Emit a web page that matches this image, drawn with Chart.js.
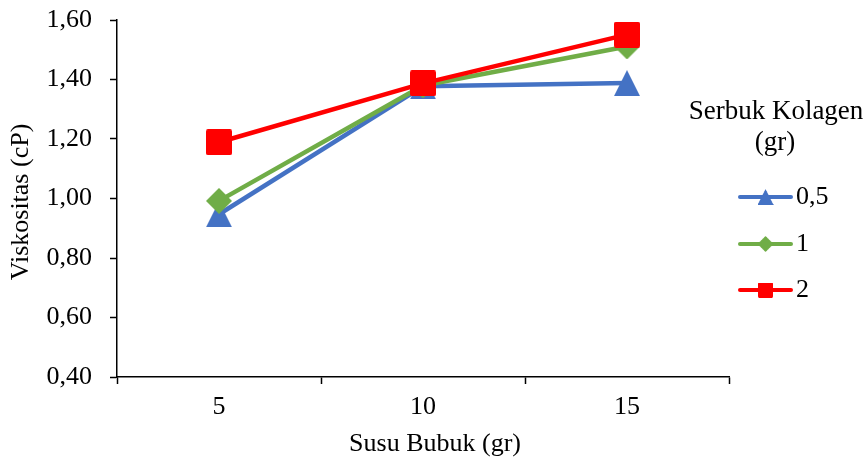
<!DOCTYPE html>
<html>
<head>
<meta charset="utf-8">
<script src="https://cdn.jsdelivr.net/npm/chart.js@4/dist/chart.umd.min.js"></script>
<style>
  html, body { margin: 0; padding: 0; background: #ffffff; }
  #wrap { width: 866px; height: 461px; }
</style>
</head>
<body>
<div id="wrap"><canvas id="chart" width="866" height="461"></canvas></div>
<script>
// Susu bubuk (gr) on the x axis
const categories = ['5', '10', '15'];

// Viscosity (cP) for each collagen dose
const serbuk05 = [0.947, 1.377, 1.388];
const serbuk1  = [0.992, 1.38, 1.511];
const serbuk2  = [1.189, 1.387, 1.551];

const seriesLabels = ['0,5', '1', '2'];
const legendTitle = ['Serbuk Kolagen', '(gr)'];
const yTitle = 'Viskositas (cP)';
const xTitle = 'Susu Bubuk (gr)';

const FONT = "'Liberation Serif', 'Times New Roman', serif";
const BLUE = '#4472C4', GREEN = '#70AD47', RED = '#FF0000';

// Marker sprites, centred on their bounding box
function marker(shape, color, size) {
  const c = document.createElement('canvas');
  c.width = size; c.height = size;
  const g = c.getContext('2d');
  g.fillStyle = color;
  g.beginPath();
  if (shape === 'triangle') {
    g.moveTo(size / 2, 0); g.lineTo(size, size); g.lineTo(0, size);
  } else if (shape === 'diamond') {
    g.moveTo(size / 2, 0); g.lineTo(size, size / 2); g.lineTo(size / 2, size); g.lineTo(0, size / 2);
  } else {
    const r = 2;
    g.moveTo(r, 0); g.lineTo(size - r, 0); g.quadraticCurveTo(size, 0, size, r);
    g.lineTo(size, size - r); g.quadraticCurveTo(size, size, size - r, size);
    g.lineTo(r, size); g.quadraticCurveTo(0, size, 0, size - r);
    g.lineTo(0, r); g.quadraticCurveTo(0, 0, r, 0);
  }
  g.closePath();
  g.fill();
  return c;
}

const triBlue = marker('triangle', BLUE, 26);
const diaGreen = marker('diamond', GREEN, 26);
const sqRed = marker('square', RED, 26);

function dataset(label, data, color, sprite, order) {
  return {
    label, data,
    borderColor: color,
    backgroundColor: color,
    borderWidth: 4.5,
    borderJoinStyle: 'round',
    borderCapStyle: 'round',
    pointStyle: sprite,
    pointRadius: 13,
    pointHoverRadius: 13,
    tension: 0,
    clip: false,
    order
  };
}

// Axis titles and the series key on the right
const labelsPlugin = {
  id: 'sideLabels',
  afterDraw(chart) {
    const ctx = chart.ctx;
    ctx.save();
    ctx.fillStyle = '#000';
    ctx.textBaseline = 'middle';
    ctx.textAlign = 'center';

    ctx.font = '26px ' + FONT;
    ctx.fillText(xTitle, 435, 444);

    ctx.save();
    ctx.translate(21, 202);
    ctx.rotate(-Math.PI / 2);
    ctx.fillText(yTitle, 0, 0);
    ctx.restore();

    ctx.font = '27px ' + FONT;
    ctx.fillText(legendTitle[0], 776, 112);
    ctx.fillText(legendTitle[1], 775, 143);

    const rows = [197, 244, 290];
    const sprites = [triBlue, diaGreen, sqRed];
    const sizes = [16, 16, 15];
    chart.data.datasets.forEach((ds, i) => {
      const y = rows[i];
      ctx.strokeStyle = ds.borderColor;
      ctx.lineWidth = 4;
      ctx.lineCap = 'round';
      ctx.beginPath();
      ctx.moveTo(740, y);
      ctx.lineTo(791, y);
      ctx.stroke();
      const s = sizes[i];
      ctx.drawImage(sprites[i], 765.5 - s / 2, y - s / 2, s, s);
      ctx.fillStyle = '#000';
      ctx.font = '26px ' + FONT;
      ctx.textAlign = 'left';
      ctx.fillText(ds.label, 796, y);
    });
    ctx.restore();
  }
};

new Chart(document.getElementById('chart'), {
  type: 'line',
  data: {
    labels: categories,
    datasets: [
      dataset(seriesLabels[0], serbuk05, BLUE, triBlue, 2),
      dataset(seriesLabels[1], serbuk1, GREEN, diaGreen, 1),
      dataset(seriesLabels[2], serbuk2, RED, sqRed, 0)
    ]
  },
  options: {
    responsive: false,
    animation: false,
    events: [],
    layout: { padding: { top: 20, right: 137, bottom: 0, left: 0 } },
    plugins: {
      legend: { display: false },
      tooltip: { enabled: false },
      title: { display: false }
    },
    scales: {
      x: {
        type: 'category',
        offset: true,
        grid: {
          offset: true,
          display: true,
          drawOnChartArea: false,
          drawTicks: true,
          tickLength: 7,
          tickColor: '#000',
          tickWidth: 1.5
        },
        border: { display: true, color: '#000', width: 1.5 },
        ticks: {
          color: '#000',
          font: { family: FONT, size: 26 },
          padding: 8,
          maxRotation: 0
        },
        afterFit(scale) { scale.height = 84; }
      },
      y: {
        min: 0.4,
        max: 1.6,
        ticks: {
          stepSize: 0.2,
          color: '#000',
          font: { family: FONT, size: 26 },
          padding: 18,
          callback: (v) => Number(v).toFixed(2).replace('.', ',')
        },
        grid: {
          display: true,
          drawOnChartArea: false,
          drawTicks: true,
          tickLength: 7,
          tickColor: '#000',
          tickWidth: 1.5
        },
        border: { display: true, color: '#000', width: 1.5 },
        afterFit(scale) {
          scale.width = 117;
          scale.paddingTop = 0;
          scale.paddingBottom = 0;
        }
      }
    }
  },
  plugins: [labelsPlugin]
});
</script>
</body>
</html>
